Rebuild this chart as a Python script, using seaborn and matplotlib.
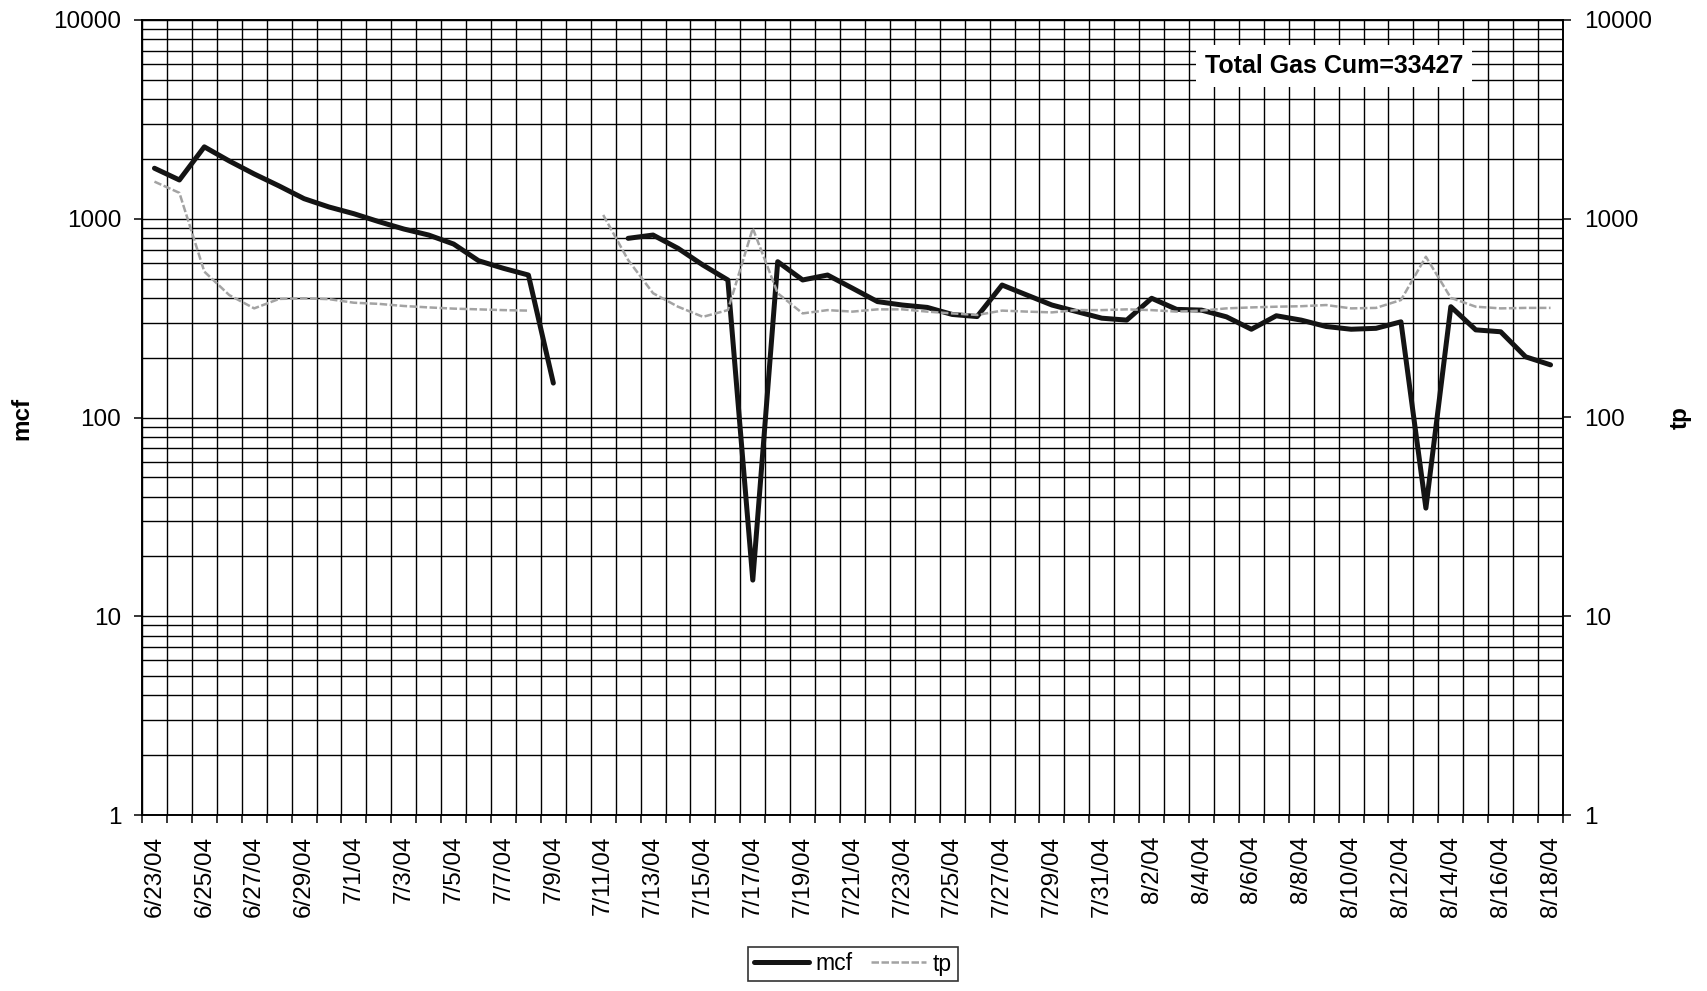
import numpy as np
import pandas as pd
import matplotlib
matplotlib.use("Agg")
import matplotlib.pyplot as plt
from matplotlib.lines import Line2D
from matplotlib.ticker import LogLocator, NullFormatter, FixedLocator, FuncFormatter
import seaborn as sns

# ---------------- data ----------------
dates = pd.date_range("2004-06-23", "2004-08-18", freq="D")
nan = np.nan
mcf = [1795, 1567, 2300, 1953, 1680, 1462, 1262, 1146, 1060, 967,
       888, 828, 746, 615, 563, 521, 149, nan, nan, 797,
       828, 710, 585, 492, 15.2, 608, 492, 521, 447, 383,
       368, 358, 330, 322, 464, 413, 368, 341, 316, 309,
       398, 350, 347, 321, 278, 325, 309, 287, 278, 281,
       303, 35, 361, 276, 270, 202, 184]
tp = [1537, 1350, 542, 413, 354, 395, 398, 394, 378, 373,
      364, 358, 353, 350, 347, 345, nan, nan, 1045, 620,
      422, 361, 321, 347, 895, 422, 334, 347, 341, 350,
      350, 341, 334, 328, 345, 341, 338, 347, 347, 350,
      347, 341, 345, 354, 358, 361, 363, 368, 354, 356,
      390, 644, 400, 361, 354, 356, 356]
date_labels = [f"{d.month}/{d.day}/04" for d in dates]
annotation = "Total Gas Cum=33427"
y_ticks = [1, 10, 100, 1000, 10000]

# ---------------- frame ----------------
n = len(dates)
df = pd.DataFrame({"day": np.arange(n), "mcf": mcf, "tp": tp})
for col in ["mcf", "tp"]:
    df[col + "_seg"] = df[col].isna().cumsum()

sns.set_theme(style="white")
plt.rcParams["font.family"] = ["Liberation Sans", "DejaVu Sans"]
plt.rcParams["text.color"] = "black"
plt.rcParams["axes.labelcolor"] = "black"
plt.rcParams["xtick.color"] = "black"
plt.rcParams["ytick.color"] = "black"
plt.rcParams["xtick.labelcolor"] = "black"
plt.rcParams["ytick.labelcolor"] = "black"

W, H = 1708, 991
fig = plt.figure(figsize=(W / 100, H / 100), dpi=100)
L, R, T, B = 142, 1563, 20, 815
ax = fig.add_axes([L / W, 1 - B / H, (R - L) / W, (B - T) / H])

mcf_color = "#141414"
tp_color = "#a3a3a3"
tp_style = (0, (3, 1))

d_m = df.dropna(subset=["mcf"])
sns.lineplot(data=d_m, x="day", y="mcf", units="mcf_seg", estimator=None,
             color=mcf_color, lw=3.6, ax=ax, legend=False, zorder=4)

ax2 = ax.twinx()
d_t = df.dropna(subset=["tp"])
sns.lineplot(data=d_t, x="day", y="tp", units="tp_seg", estimator=None,
             color=tp_color, lw=1.8, linestyle=tp_style, ax=ax2, legend=False, zorder=4)

for a in (ax, ax2):
    a.set_yscale("log")
    a.set_ylim(1, 10000)
    a.set_xlim(-0.5, n - 0.5)
    a.yaxis.set_major_locator(FixedLocator(y_ticks))
    a.yaxis.set_major_formatter(FuncFormatter(lambda v, p: f"{int(round(v))}"))
    a.yaxis.set_minor_locator(LogLocator(base=10, subs=range(2, 10)))
    a.yaxis.set_minor_formatter(NullFormatter())
    a.set_xlabel("")
    a.set_ylabel("")
    for s in a.spines.values():
        s.set_color("black")
        s.set_linewidth(1.2)

ax2.grid(False)
ax.set_xticks(np.arange(0, n, 2))
ax.set_xticklabels(date_labels[0::2], rotation=90, fontsize=17.5, color="black")
ax.set_xticks(np.arange(-0.5, n, 1), minor=True)
ax.tick_params(axis="x", which="major", length=0, pad=15)
ax.tick_params(axis="x", which="minor", length=6, width=1.1, color="black", direction="out", bottom=True)
ax.tick_params(axis="y", which="major", length=6, width=1.1, color="black", direction="out",
               left=True, labelsize=17.5, pad=9, labelcolor="black")
ax.tick_params(axis="y", which="minor", length=0)
ax2.tick_params(axis="y", which="major", length=6, width=1.1, color="black", direction="out",
                right=True, labelsize=17.5, pad=9, labelcolor="black")
ax2.tick_params(axis="y", which="minor", length=0)
ax2.tick_params(axis="x", which="both", length=0, labelbottom=False)

ax.grid(which="major", axis="y", color="black", lw=1.0)
ax.grid(which="minor", axis="both", color="black", lw=1.0)
ax.set_axisbelow(True)

fig.text(22 / W, 1 - 418 / H, "mcf", rotation=90, ha="center", va="center",
         fontsize=17.5, fontweight="bold", color="black")
fig.text(1680 / W, 1 - 418 / H, "tp", rotation=90, ha="center", va="center",
         fontsize=17.5, fontweight="bold", color="black")

ax2.text(0.839, 0.942, annotation, transform=ax.transAxes, ha="center", va="center",
         fontsize=18, fontweight="bold", zorder=10, color="black",
         bbox=dict(boxstyle="square,pad=0.35", facecolor="white", edgecolor="none"))

handles = [Line2D([], [], color=mcf_color, lw=3.6),
           Line2D([], [], color=tp_color, lw=1.8, linestyle=tp_style)]
leg = fig.legend(handles, ["mcf", "tp"], loc="center", bbox_to_anchor=(853 / W, 1 - 964 / H),
                 ncol=2, fontsize=16.5, frameon=True, fancybox=False, edgecolor="black",
                 handlelength=2.4, handletextpad=0.3, columnspacing=0.8, borderpad=0.25,
                 labelcolor="black")
leg.get_frame().set_linewidth(1.2)

fig.savefig("out.png", dpi=100, facecolor="white")
